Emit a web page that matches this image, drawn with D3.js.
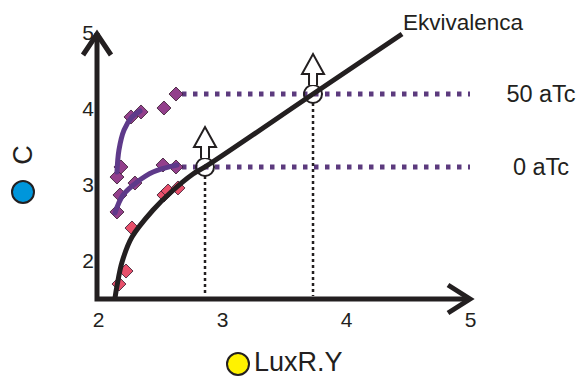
<!DOCTYPE html>
<html>
<head>
<meta charset="utf-8">
<script src="https://cdn.jsdelivr.net/npm/d3@7"></script>
<style>
  html, body { margin: 0; padding: 0; background: #fff; }
  svg { display: block; font-family: "Liberation Sans", Arial, sans-serif; }
</style>
</head>
<body>
<svg id="chart" width="579" height="376"></svg>
<script>
// ---- data ----
const xTicks = [2, 3, 4, 5];
const yTicks = [2, 3, 4, 5];
const xLabel = "LuxR.Y";
const yLabel = "C";
const equivLabel = "Ekvivalenca";
const seriesNames = ["0 aTc", "50 aTc"];

// equivalence curve (black)
const equivX = [2.137, 2.153, 2.194, 2.274, 2.444, 2.581, 2.766, 2.863, 3.734, 4.452];
const equivY = [1.513, 1.671, 1.987, 2.316, 2.671, 2.895, 3.145, 3.237, 4.197, 4.987];

// pink diamonds along equivalence
const pinkX = [2.169, 2.226, 2.274, 2.532, 2.565, 2.645];
const pinkY = [1.697, 1.868, 2.434, 2.868, 2.921, 2.961];

// 0 aTc diamonds and fit
const aTc0X = [2.153, 2.177, 2.298, 2.524, 2.629];
const aTc0Y = [2.645, 2.868, 3.026, 3.263, 3.237];
const fit0X = [2.137, 2.202, 2.315, 2.444, 2.637];
const fit0Y = [2.632, 2.868, 3.039, 3.171, 3.263];

// 50 aTc diamonds and fit
const aTc50X = [2.153, 2.185, 2.266, 2.347, 2.532, 2.629];
const aTc50Y = [3.105, 3.237, 3.895, 3.961, 4.013, 4.197];
const fit50X = [2.153, 2.169, 2.210, 2.274, 2.339];
const fit50Y = [3.171, 3.461, 3.724, 3.895, 3.974];

// plateau levels and their intersection with the equivalence line
const levelY = [3.237, 4.197];
const crossX = [2.863, 3.734];

// ---- scales ----
const svg = d3.select("#chart");
const x = d3.scaleLinear().domain([2, 5]).range([98, 470]);
const y = d3.scaleLinear().domain([1.5, 5]).range([299, 33]);

const BLACK = "#231f20";
const PURPLE_LINE = "#5e3a8a";
const PURPLE_DOT = "#5c3a7e";
const PURPLE_FILL = "#93408c";
const PINK_FILL = "#e8506b";

const zip = (xs, ys) => xs.map((v, i) => [v, ys[i]]);
const line = d3.line().x(d => x(d[0])).y(d => y(d[1])).curve(d3.curveCatmullRom.alpha(0.5));

// dotted plateau lines
const lastX = [aTc0X[aTc0X.length - 1], aTc50X[aTc50X.length - 1]];
svg.selectAll("line.plateau").data(levelY).join("line")
  .attr("class", "plateau")
  .attr("x1", (d, i) => x(lastX[i]) + 6)
  .attr("x2", x(5))
  .attr("y1", d => y(d)).attr("y2", d => y(d))
  .attr("stroke", PURPLE_DOT).attr("stroke-width", 5)
  .attr("stroke-dasharray", "4.5,6.5");

// vertical dotted lines
svg.selectAll("line.drop").data(crossX).join("line")
  .attr("class", "drop")
  .attr("x1", d => x(d)).attr("x2", d => x(d))
  .attr("y1", (d, i) => y(levelY[i]) + 9)
  .attr("y2", y(1.5) - 3)
  .attr("stroke", BLACK).attr("stroke-width", 2.5)
  .attr("stroke-dasharray", "3,3");

// diamonds
const diamond = d3.symbol().type(d3.symbolSquare).size(98);
function drawDiamonds(xs, ys, fill) {
  svg.append("g").selectAll("path").data(zip(xs, ys)).join("path")
    .attr("d", diamond)
    .attr("transform", d => `translate(${x(d[0])},${y(d[1])}) rotate(45)`)
    .attr("fill", fill).attr("stroke", "#3b1d33").attr("stroke-width", 0.8);
}
drawDiamonds(pinkX, pinkY, PINK_FILL);
drawDiamonds(aTc0X, aTc0Y, PURPLE_FILL);
drawDiamonds(aTc50X, aTc50Y, PURPLE_FILL);

// fit curves
[[fit0X, fit0Y], [fit50X, fit50Y]].forEach(([xs, ys]) => {
  svg.append("path").datum(zip(xs, ys))
    .attr("d", line).attr("fill", "none")
    .attr("stroke", PURPLE_LINE).attr("stroke-width", 5).attr("stroke-linecap", "round");
});

// equivalence curve
svg.append("path").datum(zip(equivX, equivY))
  .attr("d", line).attr("fill", "none")
  .attr("stroke", BLACK).attr("stroke-width", 5);

// circles + up arrows
crossX.forEach((cxv, i) => {
  const cx = x(cxv), cy = y(levelY[i]);
  svg.append("circle").attr("cx", cx).attr("cy", cy).attr("r", 9)
    .attr("fill", "none").attr("stroke", BLACK).attr("stroke-width", 2);
  const p = d3.path();
  p.moveTo(cx - 4, cy - 9);
  p.lineTo(cx - 4, cy - 20);
  p.lineTo(cx - 11, cy - 20);
  p.lineTo(cx, cy - 40);
  p.lineTo(cx + 11, cy - 20);
  p.lineTo(cx + 4, cy - 20);
  p.lineTo(cx + 4, cy - 9);
  svg.append("path").attr("d", p.toString())
    .attr("fill", "#fff").attr("stroke", BLACK).attr("stroke-width", 2)
    .attr("stroke-linejoin", "miter");
});

// axes lines with chevron arrows
const ox = x(2) - 1, oy = y(1.5);
const ax = d3.path();
ax.moveTo(ox, y(5)); ax.lineTo(ox, oy); ax.lineTo(x(5), oy);
svg.append("path").attr("d", ax.toString()).attr("fill", "none")
  .attr("stroke", BLACK).attr("stroke-width", 5).attr("stroke-linejoin", "miter");
const ya = d3.path();
ya.moveTo(ox - 14, y(5) + 22); ya.lineTo(ox, y(5) + 1); ya.lineTo(ox + 14, y(5) + 22);
svg.append("path").attr("d", ya.toString()).attr("fill", "none")
  .attr("stroke", BLACK).attr("stroke-width", 5).attr("stroke-linejoin", "miter");
const xa = d3.path();
xa.moveTo(x(5) - 22, oy - 14); xa.lineTo(x(5), oy); xa.lineTo(x(5) - 22, oy + 14);
svg.append("path").attr("d", xa.toString()).attr("fill", "none")
  .attr("stroke", BLACK).attr("stroke-width", 5).attr("stroke-linejoin", "miter");

// tick labels via d3 axes
const gx = svg.append("g").attr("transform", `translate(0,${oy})`)
  .call(d3.axisBottom(x).tickValues(xTicks).tickSize(0).tickPadding(13).tickFormat(d3.format("d")));
gx.select(".domain").remove();
gx.selectAll("text").attr("font-size", 21).attr("fill", BLACK)
  .attr("font-family", "'Liberation Sans', Arial, sans-serif");

const gy = svg.append("g").attr("transform", `translate(${ox},0)`)
  .call(d3.axisLeft(y).tickValues(yTicks).tickSize(0).tickPadding(3).tickFormat(d3.format("d")));
gy.select(".domain").remove();
gy.selectAll("text").attr("font-size", 21).attr("fill", BLACK)
  .attr("font-family", "'Liberation Sans', Arial, sans-serif");

// axis titles
svg.append("circle").attr("cx", 238).attr("cy", 364).attr("r", 11)
  .attr("fill", "#fff200").attr("stroke", BLACK).attr("stroke-width", 2);
svg.append("text").attr("x", 254).attr("y", 371).attr("font-size", 27)
  .attr("fill", BLACK).text(xLabel);

svg.append("circle").attr("cx", 23).attr("cy", 192).attr("r", 11)
  .attr("fill", "#0096db").attr("stroke", BLACK).attr("stroke-width", 2);
svg.append("text").attr("transform", "translate(22,155) rotate(-90)")
  .attr("text-anchor", "middle").attr("dy", "0.36em").attr("font-size", 27)
  .attr("fill", BLACK).text(yLabel);

// annotations
svg.append("text").attr("x", 403).attr("y", 30).attr("font-size", 22.5)
  .attr("fill", BLACK).text(equivLabel);
svg.selectAll("text.series").data(seriesNames).join("text")
  .attr("class", "series")
  .attr("x", 541)
  .attr("y", (d, i) => y(levelY[i]) + 8)
  .attr("text-anchor", "middle").attr("font-size", 23.5).attr("fill", BLACK)
  .text(d => d);
</script>
</body>
</html>
